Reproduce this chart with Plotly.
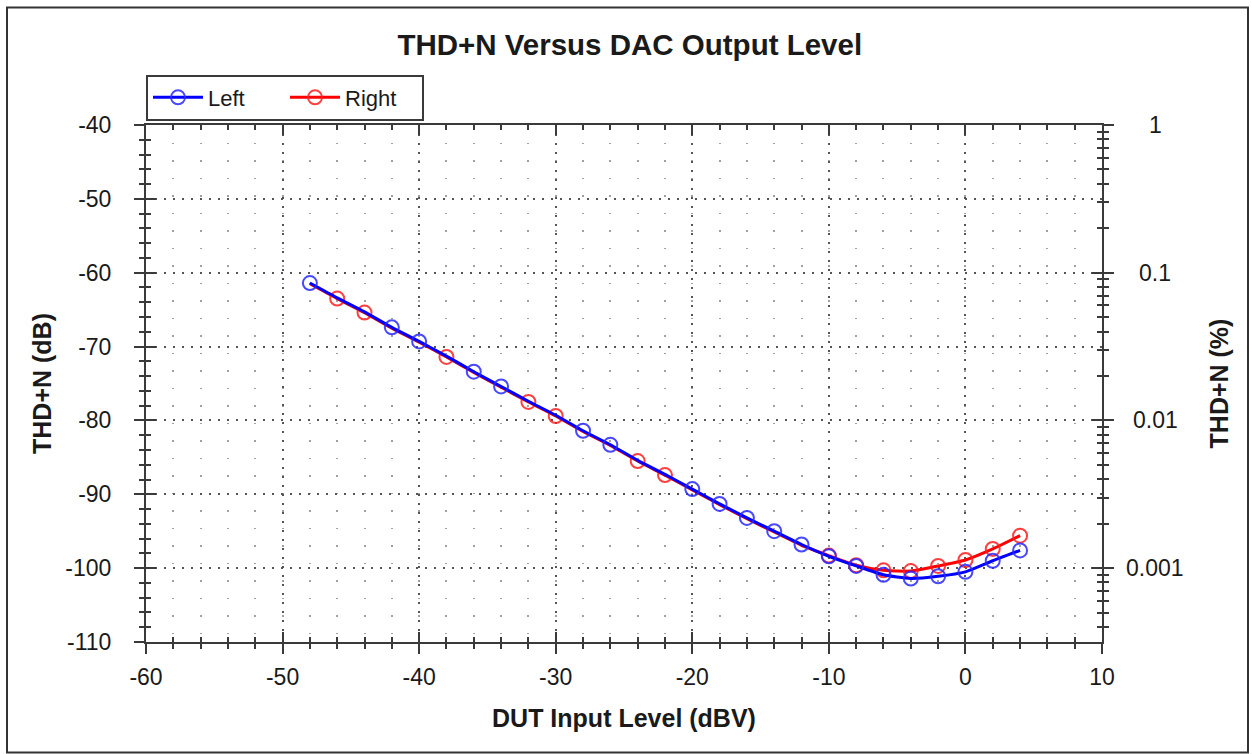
import math
import plotly.graph_objects as go

# ---------------- data ----------------
level_dbv = [-48, -46, -44, -42, -40, -38, -36, -34, -32, -30, -28, -26, -24, -22,
             -20, -18, -16, -14, -12, -10, -8, -6, -4, -2, 0, 2, 4]
left_db = [-61.4, -63.4, -65.3, -67.4, -69.3, -71.3, -73.4, -75.4, -77.4, -79.3,
           -81.4, -83.3, -85.4, -87.3, -89.3, -91.3, -93.2, -95.0, -96.8, -98.4,
           -99.7, -100.9, -101.4, -101.1, -100.5, -99.0, -97.6]
right_db = [-61.5, -63.5, -65.4, -67.5, -69.4, -71.4, -73.5, -75.5, -77.5, -79.4,
            -81.5, -83.4, -85.5, -87.4, -89.4, -91.4, -93.3, -95.1, -96.9, -98.3,
            -99.6, -100.3, -100.4, -99.7, -98.9, -97.4, -95.6]
# points whose circle marker is visible in the reference
left_marked = [-48, -42, -40, -36, -34, -28, -26, -20, -18, -16, -14, -12,
               -10, -8, -6, -4, -2, 0, 2, 4]
right_marked = [-46, -44, -38, -32, -30, -24, -22, -10, -8, -6, -4, -2, 0, 2, 4]

x_range = [-60, 10]
x_ticks = [-60, -50, -40, -30, -20, -10, 0, 10]
x_tick_labels = ["-60", "-50", "-40", "-30", "-20", "-10", "0", "10"]
db_range = [-110, -40]
db_ticks = [-110, -100, -90, -80, -70, -60, -50, -40]
db_tick_labels = ["-110", "-100", "-90", "-80", "-70", "-60", "-50", "-40"]
pct_ticks = [0.001, 0.01, 0.1, 1]
pct_labels = ["0.001", "0.01", "0.1", "1"]

# ---------------- styling ----------------
FONT = "Liberation Sans, Arial, sans-serif"
AXC = "#3a3a3a"
TXT = "#1a1a1a"
BLUE = "#0000ff"
RED = "#ff0000"
BLUE_M = "rgba(40,40,255,0.85)"
RED_M = "rgba(255,30,30,0.85)"

pct_range = [db_range[0] / 20 + 2, db_range[1] / 20 + 2]  # log10 of % at range ends
pct_minor = [k * 10 ** e for e in range(-4, 0) for k in range(2, 10)
             if math.log10(k * 10 ** e) >= pct_range[0]]


def subset(xs, ys, keep):
    px = [x for x in xs if x in keep]
    py = [y for x, y in zip(xs, ys) if x in keep]
    return px, py


fig = go.Figure()

series = [("Right", right_db, right_marked, RED, RED_M),
          ("Left", left_db, left_marked, BLUE, BLUE_M)]

MSIZE = 14
for name, ys, marked, col, mcol in series:
    fig.add_trace(go.Scatter(x=level_dbv, y=ys, mode="lines", name=name,
                             line=dict(color=col, width=3, shape="spline", smoothing=0.6),
                             showlegend=False, legendgroup=name))
    mx, my = subset(level_dbv, ys, marked)
    fig.add_trace(go.Scatter(x=mx, y=my, mode="markers", name=name,
                             marker=dict(symbol="circle-open", size=MSIZE, color=mcol,
                                         line=dict(width=2, color=mcol)),
                             showlegend=False, legendgroup=name))

# legend entries (Left first)
for name, col, mcol in [("Left", BLUE, BLUE_M), ("Right", RED, RED_M)]:
    fig.add_trace(go.Scatter(x=[None], y=[None], mode="lines+markers", name=name,
                             line=dict(color=col, width=3),
                             marker=dict(symbol="circle-open", size=MSIZE, color=mcol,
                                         line=dict(width=2, color=mcol)),
                             legendgroup=name))

# helper traces so the overlay axes are drawn
fig.add_trace(go.Scatter(x=[None], y=[None], xaxis="x2", yaxis="y3", showlegend=False, hoverinfo="skip"))
fig.add_trace(go.Scatter(x=[None], y=[None], xaxis="x", yaxis="y2", showlegend=False, hoverinfo="skip"))
fig.add_trace(go.Scatter(x=[None], y=[None], xaxis="x", yaxis="y4", showlegend=False, hoverinfo="skip"))

tickfont = dict(family=FONT, size=23, color=TXT)
titlefont = dict(family=FONT, size=25, color=TXT, weight="bold")

major_grid = dict(showgrid=True, gridcolor="#555555", griddash="2px,7px", gridwidth=1.5)

fig.update_layout(
    width=1252, height=754,
    margin=dict(l=146, r=150, t=125, b=112),
    paper_bgcolor="white", plot_bgcolor="white",
    font=dict(family=FONT, color=TXT),
    title=dict(text="THD+N Versus DAC Output Level", x=0.503, xanchor="center",
               y=1 - 45 / 754, yanchor="middle",
               font=dict(family=FONT, size=29.5, color=TXT, weight="bold")),
    xaxis=dict(range=x_range, tickmode="array", tickvals=x_ticks, ticktext=x_tick_labels,
               ticks="outside", ticklen=10, tickwidth=2,
               tickcolor=AXC, showline=True, linewidth=2, linecolor=AXC, zeroline=False,
               tickfont=tickfont, ticklabelstandoff=3,
               minor=dict(dtick=2, tick0=0, ticks="outside", ticklen=5, tickwidth=2, tickcolor=AXC,
                          showgrid=True, gridcolor="#a0a0a0", griddash="1.5px,16px", gridwidth=1.5),
               title=dict(text="DUT Input Level (dBV)", font=titlefont, standoff=21),
               **major_grid),
    xaxis2=dict(range=x_range, dtick=10, tick0=0, overlaying="x", side="bottom", anchor="y",
                ticks="inside", ticklen=10, tickwidth=2, tickcolor=AXC, showline=True,
                mirror="ticks", linewidth=2, linecolor=AXC, showticklabels=False,
                showgrid=False, zeroline=False,
                minor=dict(dtick=2, tick0=0, ticks="inside", ticklen=5, tickwidth=2,
                           tickcolor=AXC, showgrid=False)),
    yaxis=dict(range=db_range, tickmode="array", tickvals=db_ticks, ticktext=db_tick_labels,
               ticks="outside", ticklen=10, tickwidth=2,
               tickcolor=AXC, showline=True, linewidth=2, linecolor=AXC, zeroline=False,
               tickfont=tickfont, ticklabelstandoff=18,
               minor=dict(dtick=2, tick0=0, ticks="outside", ticklen=5, tickwidth=2,
                          tickcolor=AXC, showgrid=False),
               title=dict(text="THD+N (dB)", font=titlefont, standoff=7),
               **major_grid),
    yaxis3=dict(range=db_range, dtick=10, tick0=0, overlaying="y", side="left", anchor="x",
                ticks="inside", ticklen=10, tickwidth=2, tickcolor=AXC, showline=False,
                showticklabels=False, showgrid=False, zeroline=False,
                minor=dict(dtick=2, tick0=0, ticks="inside", ticklen=5, tickwidth=2,
                           tickcolor=AXC, showgrid=False)),
    yaxis2=dict(type="log", range=pct_range, overlaying="y", side="right", anchor="x",
                tickmode="array", tickvals=pct_ticks, ticktext=pct_labels,
                ticks="outside", ticklen=10, tickwidth=2, tickcolor=AXC,
                showline=True, linewidth=2, linecolor=AXC, showticklabels=False,
                showgrid=False, zeroline=False,
                minor=dict(tickmode="array", tickvals=pct_minor, ticks="outside", ticklen=5,
                           tickwidth=2, tickcolor=AXC, showgrid=False),
                title=dict(text="THD+N (%)", font=titlefont, standoff=97)),
    yaxis4=dict(type="log", range=pct_range, overlaying="y", side="right", anchor="x",
                tickmode="array", tickvals=pct_ticks, ticks="inside", ticklen=10, tickwidth=2,
                tickcolor=AXC, showline=False, showticklabels=False, showgrid=False,
                zeroline=False,
                minor=dict(tickmode="array", tickvals=pct_minor, ticks="inside", ticklen=5,
                           tickwidth=2, tickcolor=AXC, showgrid=False)),
    legend=dict(orientation="h", x=0, y=(641.5 - 97) / 517, xanchor="left", yanchor="middle",
                bgcolor="white", bordercolor=AXC, borderwidth=2,
                font=dict(family=FONT, size=22, color=TXT), entrywidth=72,
                itemwidth=50, traceorder="normal"),
    showlegend=True,
)

# right-axis tick labels, centred like the reference
for v, lab in zip(pct_ticks, pct_labels):
    fig.add_annotation(text=lab, x=(1155 - 146) / 956, xref="paper", xanchor="center",
                       y=math.log10(v), yref="y2", yanchor="middle", showarrow=False,
                       font=tickfont)

# outer frame of the picture
fig.add_shape(type="rect", xref="paper", yref="paper",
              x0=(7 - 146) / 956, x1=(1248 - 146) / 956,
              y0=(641.5 - 752) / 517, y1=(641.5 - 7) / 517,
              line=dict(color="#333333", width=2), layer="below")

fig.write_html("out.html")
